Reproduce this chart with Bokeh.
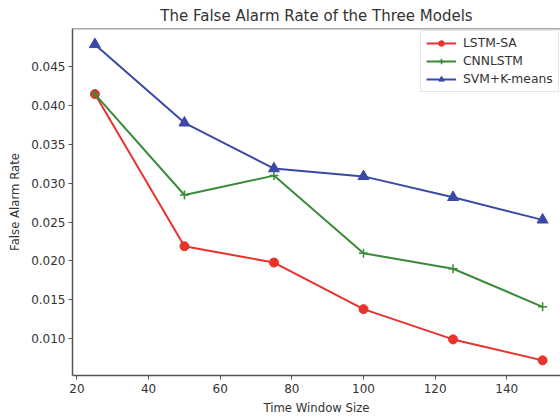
from bokeh.plotting import figure
from bokeh.models import FixedTicker, PrintfTickFormatter, Range1d, Legend, LegendItem, Span
from bokeh.embed import file_html
from bokeh.resources import INLINE

window_sizes = [25, 50, 75, 100, 125, 150]
lstm_sa = [0.0415, 0.0219, 0.0198, 0.0138, 0.0099, 0.0072]
cnnlstm = [0.0415, 0.0285, 0.0310, 0.0210, 0.0190, 0.0141]
svm_kmeans = [0.0479, 0.0378, 0.0319, 0.0309, 0.0282, 0.0253]

x_ticks = [20, 40, 60, 80, 100, 120, 140]
y_ticks = [0.010, 0.015, 0.020, 0.025, 0.030, 0.035, 0.040, 0.045]

FONT = "DejaVu Sans"
TXT = "#333333"
EDGE = "#555555"

Y_TOP = 0.04995

p = figure(width=560, height=417, output_backend="svg", toolbar_location=None,
           x_range=Range1d(18.75, 155.0), y_range=Range1d(0.00525, Y_TOP),
           min_border_left=72, min_border_right=0, min_border_top=28, min_border_bottom=40)

p.title.text = "The False Alarm Rate of the Three Models"
p.title.align = "center"
p.title.text_font = FONT
p.title.text_font_size = "15px"
p.title.text_font_style = "normal"
p.title.text_color = TXT
p.title.standoff = 7

p.xgrid.visible = False
p.ygrid.visible = False
p.outline_line_color = None

p.add_layout(Span(location=Y_TOP, dimension="width", line_color=EDGE, line_width=1.5))

xa = p.below[0]
ya = p.left[0]
for ax in (xa, ya):
    ax.axis_line_color = EDGE
    ax.axis_line_width = 1.5
    ax.major_tick_line_color = EDGE
    ax.major_tick_out = 4
    ax.major_tick_in = 0
    ax.minor_tick_line_color = None
    ax.major_label_text_font = FONT
    ax.major_label_text_font_size = "12px"
    ax.major_label_text_color = TXT
    ax.axis_label_text_font = FONT
    ax.axis_label_text_font_size = "11.7px"
    ax.axis_label_text_color = TXT
    ax.axis_label_text_font_style = "normal"

xa.ticker = FixedTicker(ticks=x_ticks)
ya.ticker = FixedTicker(ticks=y_ticks)
ya.formatter = PrintfTickFormatter(format="%.3f")
xa.axis_label = "Time Window Size"
ya.axis_label = "False Alarm Rate"
xa.axis_label_standoff = 5
ya.axis_label_standoff = 6
xa.major_label_standoff = 4
ya.major_label_standoff = 3

RED = "#e8322c"
GREEN = "#3a8b38"
BLUE = "#3b49a6"

l1 = p.line(window_sizes, lstm_sa, line_color=RED, line_width=2)
m1 = p.scatter(window_sizes, lstm_sa, marker="circle", size=9, fill_color=RED, line_color=RED)
l2 = p.line(window_sizes, cnnlstm, line_color=GREEN, line_width=2)
m2 = p.scatter(window_sizes, cnnlstm, marker="cross", size=9, line_color=GREEN, line_width=1.5)
l3 = p.line(window_sizes, svm_kmeans, line_color=BLUE, line_width=2)
m3 = p.scatter(window_sizes, svm_kmeans, marker="triangle", size=11, fill_color=BLUE, line_color=BLUE)

legend = Legend(items=[
    LegendItem(label="LSTM-SA", renderers=[l1, m1]),
    LegendItem(label="CNNLSTM", renderers=[l2, m2]),
    LegendItem(label="SVM+K-means", renderers=[l3, m3]),
], location=(348, 283))
legend.label_text_font = FONT
legend.label_text_font_size = "12.3px"
legend.label_text_color = TXT
legend.border_line_color = "#cccccc"
legend.border_line_width = 1
legend.background_fill_alpha = 0.9
legend.glyph_width = 30
legend.glyph_height = 14
legend.spacing = 4
legend.padding = 5
legend.label_standoff = 7
legend.margin = 0
p.add_layout(legend, "center")

open("out.html", "w").write(file_html(p, INLINE))
